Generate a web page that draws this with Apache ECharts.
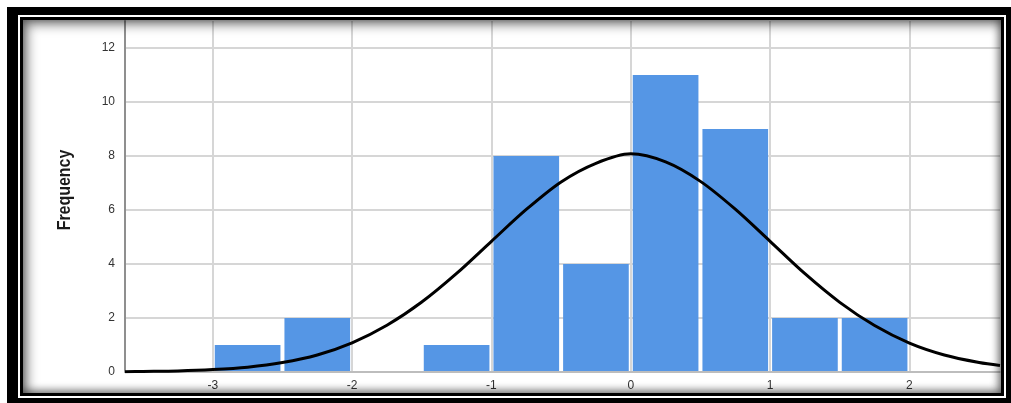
<!DOCTYPE html>
<html>
<head>
<meta charset="utf-8">
<script src="https://cdn.jsdelivr.net/npm/echarts@6/dist/echarts.min.js"></script>
<style>
  html, body { margin: 0; padding: 0; background: #fff; }
  #wrap { position: relative; width: 1011px; height: 403px; overflow: hidden; }
  .layer { position: absolute; }
  #outer { left: 7px; top: 7px; width: 1004px; height: 396px; background: #000; }
  #gap { left: 18px; top: 15px; width: 988px; height: 383px; background: #fff; }
  #rim { left: 20px; top: 17px; width: 984px; height: 379px; background: #000; }
  #panel { left: 23px; top: 20px; width: 978px; height: 373px; background: #fff; }
  #shade { left: 23px; top: 20px; width: 978px; height: 373px; pointer-events: none;
           box-shadow: inset 3px 3px 12px 1px rgba(0,0,0,0.55), inset -2px -2px 8px rgba(0,0,0,0.45); z-index: 5; }
  #chart { position: absolute; left: 0; top: 0; width: 1011px; height: 403px; z-index: 2; }
</style>
</head>
<body>
<div id="wrap">
  <div class="layer" id="outer"></div>
  <div class="layer" id="gap"></div>
  <div class="layer" id="rim"></div>
  <div class="layer" id="panel"></div>
  <div id="chart"></div>
  <div class="layer" id="shade"></div>
</div>
<script>
// Histogram bins (lower / upper edge) and their frequencies
const binLower = [-3, -2.5, -2, -1.5, -1, -0.5, 0, 0.5, 1, 1.5];
const binUpper = [-2.5, -2, -1.5, -1, -0.5, 0, 0.5, 1, 1.5, 2];
const frequencies = [1, 2, 0, 1, 8, 4, 11, 9, 2, 2];

// Fitted normal curve, sampled along the x axis
const curveX = [-3.63, -3.5, -3.25, -3.0, -2.75, -2.5, -2.25, -2.0, -1.75, -1.5, -1.25, -1.0, -0.75, -0.5, -0.25,
                0, 0.25, 0.5, 0.75, 1.0, 1.25, 1.5, 1.75, 2.0, 2.25, 2.5, 2.65];
const curveY = [0.01, 0.02, 0.04, 0.09, 0.18, 0.35, 0.63, 1.08, 1.73, 2.59, 3.65, 4.84, 6.02, 7.04, 7.73,
                8.08, 7.78, 7.06, 6.03, 4.84, 3.64, 2.58, 1.72, 1.07, 0.63, 0.35, 0.24];

// Axis ticks
const xTicks = [-3, -2, -1, 0, 1, 2];
const yTicks = [0, 2, 4, 6, 8, 10, 12];
const xRange = [-3.63, 2.65];
const yRange = [0, 13];
const yTitle = 'Frequency';

const barData = binLower.map((lo, i) => [lo, binUpper[i], frequencies[i]]);
const curveData = curveX.map((x, i) => [x, curveY[i]]);

const chart = echarts.init(document.getElementById('chart'), null, { renderer: 'canvas' });

chart.setOption({
  backgroundColor: 'transparent',
  animation: false,
  grid: { left: 125, right: 11, top: 21, bottom: 31, containLabel: false },
  // condensed vertical axis title
  graphic: [{
    type: 'text',
    x: 65,
    y: 190,
    rotation: Math.PI / 2,
    scaleX: 0.84,
    style: {
      text: yTitle,
      font: 'bold 19px "Liberation Sans", Arial, sans-serif',
      fill: '#1a1a1a',
      align: 'center',
      verticalAlign: 'middle'
    }
  }],
  xAxis: {
    type: 'value',
    min: xRange[0],
    max: xRange[1],
    axisLine: { show: true, onZero: false, lineStyle: { color: '#b5b5b5', width: 1.5 } },
    axisTick: { show: false, customValues: xTicks },
    axisLabel: { customValues: xTicks, color: '#333', fontSize: 12, margin: 8,
                 fontFamily: 'Liberation Sans, Arial, sans-serif' },
    splitLine: { show: true, lineStyle: { color: '#d6d6d6', width: 2 } }
  },
  yAxis: {
    type: 'value',
    min: yRange[0],
    max: yRange[1],
    axisLine: { show: true, onZero: false, lineStyle: { color: '#8f8f8f', width: 2 } },
    axisTick: { show: false, customValues: yTicks },
    axisLabel: { customValues: yTicks, color: '#333', fontSize: 12, margin: 10,
                 fontFamily: 'Liberation Sans, Arial, sans-serif' },
    splitLine: { show: true, lineStyle: { color: '#d6d6d6', width: 2 } }
  },
  series: [
    {
      type: 'custom',
      data: barData,
      encode: { x: [0, 1], y: 2 },
      renderItem: function (params, api) {
        const count = api.value(2);
        if (!count) return null;
        const topLeft = api.coord([api.value(0), count]);
        const bottomRight = api.coord([api.value(1), 0]);
        const inset = 2;
        return {
          type: 'rect',
          shape: {
            x: topLeft[0] + inset,
            y: topLeft[1],
            width: bottomRight[0] - topLeft[0] - inset * 2,
            height: bottomRight[1] - topLeft[1] - 1
          },
          style: { fill: '#5596e5' }
        };
      },
      z: 3
    },
    {
      type: 'line',
      data: curveData,
      smooth: 0.3,
      symbol: 'none',
      lineStyle: { color: '#000', width: 3 },
      z: 4
    }
  ]
});
</script>
</body>
</html>
